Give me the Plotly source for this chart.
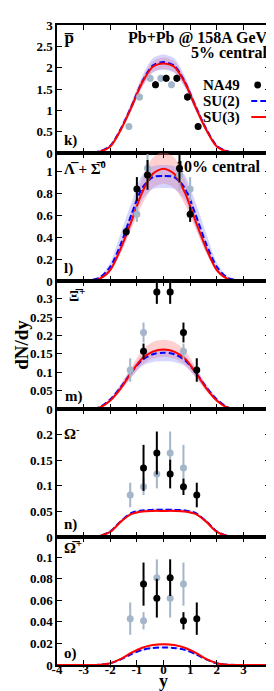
import plotly.graph_objects as go
from plotly.subplots import make_subplots

# ---------------- data ----------------
XG = [-4, -3.2, -2.8, -2.4, -2.0, -1.6, -1.2, -0.8, -0.4, 0, 0.4, 0.8, 1.2, 1.6, 2.0, 2.4, 2.8, 3.2, 4]

# panel k : anti-proton
k_su3 = [0, 0, 0, 0.03, 0.15, 0.55, 1.08, 1.65, 2.02, 2.10, 2.02, 1.65, 1.08, 0.55, 0.15, 0.03, 0, 0, 0]
k_su3_lo = [0, 0, 0, 0.02, 0.13, 0.50, 1.01, 1.55, 1.90, 1.97, 1.90, 1.55, 1.01, 0.50, 0.13, 0.02, 0, 0, 0]
k_su3_hi = [0, 0, 0, 0.04, 0.17, 0.60, 1.15, 1.75, 2.15, 2.24, 2.15, 1.75, 1.15, 0.60, 0.17, 0.04, 0, 0, 0]
k_su2 = [0, 0, 0, 0.04, 0.17, 0.57, 1.10, 1.67, 2.05, 2.13, 2.05, 1.67, 1.10, 0.57, 0.17, 0.04, 0, 0, 0]
k_su2_lo = [0, 0, 0, 0.03, 0.14, 0.51, 1.00, 1.54, 1.88, 1.95, 1.88, 1.54, 1.00, 0.51, 0.14, 0.03, 0, 0, 0]
k_su2_hi = [0, 0, 0, 0.05, 0.20, 0.63, 1.20, 1.80, 2.22, 2.31, 2.22, 1.80, 1.20, 0.63, 0.20, 0.05, 0, 0, 0]
k_na49_x = [-0.3, 0.1, 0.5, 0.9, 1.3]
k_na49_y = [1.60, 1.75, 1.75, 1.31, 0.62]
k_na49_e = [0.08, 0.08, 0.08, 0.08, 0.07]
k_refl_x = [-1.3, -0.9, -0.5, -0.1, 0.3]
k_refl_y = [0.62, 1.31, 1.75, 1.75, 1.60]
k_refl_e = [0.07, 0.08, 0.08, 0.08, 0.08]

# panel l : anti-Lambda + anti-Sigma0
l_su3 = [0, 0, 0, 0.02, 0.10, 0.30, 0.55, 0.81, 0.98, 1.025, 0.98, 0.81, 0.55, 0.30, 0.10, 0.02, 0, 0, 0]
l_su3_lo = [0, 0, 0, 0.015, 0.085, 0.26, 0.48, 0.70, 0.85, 0.89, 0.85, 0.70, 0.48, 0.26, 0.085, 0.015, 0, 0, 0]
l_su3_hi = [0, 0, 0, 0.03, 0.12, 0.35, 0.64, 0.94, 1.13, 1.18, 1.13, 0.94, 0.64, 0.35, 0.12, 0.03, 0, 0, 0]
l_su2 = [0, 0, 0.005, 0.03, 0.13, 0.34, 0.61, 0.85, 0.95, 0.96, 0.95, 0.85, 0.61, 0.34, 0.13, 0.03, 0.005, 0, 0]
l_su2_lo = [0, 0, 0, 0.02, 0.10, 0.26, 0.50, 0.74, 0.84, 0.85, 0.84, 0.74, 0.50, 0.26, 0.10, 0.02, 0, 0, 0]
l_su2_hi = [0, 0, 0.01, 0.045, 0.17, 0.44, 0.72, 0.97, 1.05, 1.06, 1.05, 0.97, 0.72, 0.44, 0.17, 0.045, 0.01, 0, 0]
l_na49_x = [-1.4, -1.0, -0.6, 0.6, 1.0]
l_na49_y = [0.45, 0.84, 0.97, 1.03, 0.61]
l_na49_e = [0.036, 0.11, 0.136, 0.13, 0.07]
l_refl_x = [1.0, 0.6, -0.6, -1.0]
l_refl_y = [0.84, 0.97, 1.03, 0.61]
l_refl_e = [0.11, 0.136, 0.13, 0.07]

# panel m : anti-Xi+
m_su3 = [0, 0, 0, 0.004, 0.023, 0.057, 0.100, 0.137, 0.156, 0.162, 0.156, 0.137, 0.100, 0.057, 0.023, 0.004, 0, 0, 0]
m_su3_lo = [0, 0, 0, 0.003, 0.019, 0.049, 0.087, 0.120, 0.137, 0.142, 0.137, 0.120, 0.087, 0.049, 0.019, 0.003, 0, 0, 0]
m_su3_hi = [0, 0, 0, 0.005, 0.027, 0.066, 0.115, 0.160, 0.182, 0.188, 0.182, 0.160, 0.115, 0.066, 0.027, 0.005, 0, 0, 0]
m_su2 = [0, 0, 0, 0.005, 0.026, 0.060, 0.100, 0.133, 0.149, 0.153, 0.149, 0.133, 0.100, 0.060, 0.026, 0.005, 0, 0, 0]
m_su2_lo = [0, 0, 0, 0.004, 0.021, 0.051, 0.087, 0.117, 0.128, 0.130, 0.128, 0.117, 0.087, 0.051, 0.021, 0.004, 0, 0, 0]
m_su2_hi = [0, 0, 0, 0.006, 0.030, 0.068, 0.110, 0.145, 0.160, 0.163, 0.160, 0.145, 0.110, 0.068, 0.030, 0.006, 0, 0, 0]
m_na49_x = [-0.75, -0.25, 0.25, 0.75, 1.25]
m_na49_y = [0.157, 0.318, 0.318, 0.208, 0.106]
m_na49_e = [0.021, 0.032, 0.032, 0.027, 0.032]
m_refl_x = [-1.25, -0.75, -0.25, 0.25, 0.75]
m_refl_y = [0.106, 0.208, 0.318, 0.318, 0.157]
m_refl_e = [0.032, 0.027, 0.032, 0.032, 0.021]

# panel n : Omega-
n_su3 = [0, 0, 0, 0.002, 0.010, 0.030, 0.045, 0.050, 0.051, 0.051, 0.051, 0.050, 0.045, 0.030, 0.010, 0.002, 0, 0, 0]
n_su3_lo = [0, 0, 0, 0.0015, 0.009, 0.028, 0.043, 0.048, 0.049, 0.049, 0.049, 0.048, 0.043, 0.028, 0.009, 0.0015, 0, 0, 0]
n_su3_hi = [0, 0, 0, 0.0025, 0.011, 0.032, 0.047, 0.052, 0.053, 0.053, 0.053, 0.052, 0.047, 0.032, 0.011, 0.0025, 0, 0, 0]
n_su2 = [0, 0, 0, 0.002, 0.011, 0.031, 0.047, 0.052, 0.053, 0.053, 0.053, 0.052, 0.047, 0.031, 0.011, 0.002, 0, 0, 0]
n_su2_lo = [0, 0, 0, 0.0015, 0.010, 0.029, 0.045, 0.050, 0.051, 0.051, 0.051, 0.050, 0.045, 0.029, 0.010, 0.0015, 0, 0, 0]
n_su2_hi = [0, 0, 0, 0.0025, 0.012, 0.033, 0.049, 0.054, 0.055, 0.055, 0.055, 0.054, 0.049, 0.033, 0.012, 0.0025, 0, 0, 0]
n_na49_x = [-0.75, -0.25, 0.25, 0.75, 1.25]
n_na49_y = [0.135, 0.164, 0.123, 0.098, 0.082]
n_na49_e = [0.045, 0.042, 0.028, 0.016, 0.024]
n_refl_x = [-1.25, -0.75, -0.25, 0.25, 0.75]
n_refl_y = [0.082, 0.098, 0.123, 0.164, 0.135]
n_refl_e = [0.024, 0.016, 0.028, 0.042, 0.045]

# panel o : anti-Omega+
o_su3 = [0, 0, 0, 0.0003, 0.0017, 0.0057, 0.0115, 0.0160, 0.0185, 0.0193, 0.0185, 0.0160, 0.0115, 0.0057, 0.0017, 0.0003, 0, 0, 0]
o_su3_lo = [0, 0, 0, 0.0002, 0.0015, 0.0053, 0.0108, 0.0152, 0.0176, 0.0184, 0.0176, 0.0152, 0.0108, 0.0053, 0.0015, 0.0002, 0, 0, 0]
o_su3_hi = [0, 0, 0, 0.0004, 0.0019, 0.0061, 0.0122, 0.0168, 0.0194, 0.0202, 0.0194, 0.0168, 0.0122, 0.0061, 0.0019, 0.0004, 0, 0, 0]
o_su2 = [0, 0, 0, 0.0003, 0.0016, 0.0052, 0.0102, 0.0140, 0.0158, 0.0163, 0.0158, 0.0140, 0.0102, 0.0052, 0.0016, 0.0003, 0, 0, 0]
o_su2_lo = [0, 0, 0, 0.0002, 0.0014, 0.0048, 0.0096, 0.0132, 0.0150, 0.0155, 0.0150, 0.0132, 0.0096, 0.0048, 0.0014, 0.0002, 0, 0, 0]
o_su2_hi = [0, 0, 0, 0.0004, 0.0018, 0.0056, 0.0108, 0.0148, 0.0166, 0.0171, 0.0166, 0.0148, 0.0108, 0.0056, 0.0018, 0.0004, 0, 0, 0]
o_na49_x = [-0.75, -0.25, 0.25, 0.75, 1.25]
o_na49_y = [0.075, 0.062, 0.081, 0.041, 0.043]
o_na49_e = [0.020, 0.018, 0.017, 0.008, 0.015]
o_refl_x = [-1.25, -0.75, -0.25, 0.25, 0.75]
o_refl_y = [0.043, 0.041, 0.081, 0.062, 0.075]
o_refl_e = [0.015, 0.008, 0.017, 0.018, 0.020]

X_TICKS = [-4, -3, -2, -1, 0, 1, 2, 3, 4]
Y_RANGES = [[0, 3.0], [0, 1.17], [0, 0.348], [0, 0.25], [0, 0.1187]]
Y_TICKS = [
    [0, 0.5, 1, 1.5, 2, 2.5, 3],
    [0, 0.2, 0.4, 0.6, 0.8, 1.0],
    [0, 0.05, 0.1, 0.15, 0.2, 0.25, 0.3],
    [0, 0.05, 0.1, 0.15, 0.2],
    [0, 0.02, 0.04, 0.06, 0.08, 0.1],
]
Y_TICKTEXT = [
    ["0", "0.5", "1", "1.5", "2", "2.5", "3"],
    ["0", "0.2", "0.4", "0.6", "0.8", "1"],
    ["0", "0.05", "0.1", "0.15", "0.2", "0.25", "0.3"],
    ["0", "0.05", "0.1", "0.15", "0.2"],
    ["0", "0.02", "0.04", "0.06", "0.08", "0.1"],
]

panels = [
    dict(su3=k_su3, su3_lo=k_su3_lo, su3_hi=k_su3_hi, su2=k_su2, su2_lo=k_su2_lo, su2_hi=k_su2_hi,
         dx=k_na49_x, dy=k_na49_y, de=k_na49_e, rx=k_refl_x, ry=k_refl_y, re=k_refl_e),
    dict(su3=l_su3, su3_lo=l_su3_lo, su3_hi=l_su3_hi, su2=l_su2, su2_lo=l_su2_lo, su2_hi=l_su2_hi,
         dx=l_na49_x, dy=l_na49_y, de=l_na49_e, rx=l_refl_x, ry=l_refl_y, re=l_refl_e),
    dict(su3=m_su3, su3_lo=m_su3_lo, su3_hi=m_su3_hi, su2=m_su2, su2_lo=m_su2_lo, su2_hi=m_su2_hi,
         dx=m_na49_x, dy=m_na49_y, de=m_na49_e, rx=m_refl_x, ry=m_refl_y, re=m_refl_e),
    dict(su3=n_su3, su3_lo=n_su3_lo, su3_hi=n_su3_hi, su2=n_su2, su2_lo=n_su2_lo, su2_hi=n_su2_hi,
         dx=n_na49_x, dy=n_na49_y, de=n_na49_e, rx=n_refl_x, ry=n_refl_y, re=n_refl_e),
    dict(su3=o_su3, su3_lo=o_su3_lo, su3_hi=o_su3_hi, su2=o_su2, su2_lo=o_su2_lo, su2_hi=o_su2_hi,
         dx=o_na49_x, dy=o_na49_y, de=o_na49_e, rx=o_refl_x, ry=o_refl_y, re=o_refl_e),
]

# ---------------- style ----------------
FONT = "Liberation Serif"
RED = "#ff0000"
BLUE = "#0000ff"
PINK_FILL = "rgba(255,120,120,0.35)"
BLUE_FILL = "rgba(120,120,255,0.30)"
GRAY = "#a3b6ca"
SPL = dict(shape="spline", smoothing=0.8)

fig = make_subplots(rows=5, cols=1, shared_xaxes=True, vertical_spacing=0)

for i, p in enumerate(panels, start=1):
    fig.add_trace(go.Scatter(x=XG, y=p["su3_lo"], mode="lines", line=dict(width=0, **SPL),
                             hoverinfo="skip", showlegend=False), row=i, col=1)
    fig.add_trace(go.Scatter(x=XG, y=p["su3_hi"], mode="lines", line=dict(width=0, **SPL),
                             fill="tonexty", fillcolor=PINK_FILL, hoverinfo="skip", showlegend=False), row=i, col=1)
    fig.add_trace(go.Scatter(x=XG, y=p["su2_lo"], mode="lines", line=dict(width=0, **SPL),
                             hoverinfo="skip", showlegend=False), row=i, col=1)
    fig.add_trace(go.Scatter(x=XG, y=p["su2_hi"], mode="lines", line=dict(width=0, **SPL),
                             fill="tonexty", fillcolor=BLUE_FILL, hoverinfo="skip", showlegend=False), row=i, col=1)
    fig.add_trace(go.Scatter(x=XG, y=p["su2"], mode="lines", name="SU(2)",
                             line=dict(color=BLUE, width=2, dash="6px,3px", **SPL), showlegend=False), row=i, col=1)
    fig.add_trace(go.Scatter(x=XG, y=p["su3"], mode="lines", name="SU(3)",
                             line=dict(color=RED, width=2, **SPL), showlegend=False), row=i, col=1)
    fig.add_trace(go.Scatter(x=p["rx"], y=p["ry"], mode="markers", showlegend=False,
                             marker=dict(color=GRAY, size=7),
                             error_y=dict(type="data", array=p["re"], color=GRAY, thickness=2, width=0)),
                  row=i, col=1)
    fig.add_trace(go.Scatter(x=p["dx"], y=p["dy"], mode="markers", name="NA49", showlegend=False,
                             marker=dict(color="black", size=7),
                             error_y=dict(type="data", array=p["de"], color="black", thickness=2, width=0)),
                  row=i, col=1)

axis_common = dict(showline=True, linecolor="black", linewidth=1.5, mirror="allticks",
                   ticks="inside", ticklen=5, tickwidth=1, tickcolor="black",
                   showgrid=False, zeroline=False,
                   tickfont=dict(family=FONT, size=13, color="black", weight="bold"))

for i in range(1, 6):
    fig.update_xaxes(range=[-4, 4], tickvals=X_TICKS, ticktext=[str(v) for v in X_TICKS],
                     row=i, col=1, **axis_common)
    fig.update_yaxes(range=Y_RANGES[i - 1], tickvals=Y_TICKS[i - 1], ticktext=Y_TICKTEXT[i - 1],
                     row=i, col=1, **axis_common)

fig.update_xaxes(showticklabels=True, ticklabelstandoff=-8, row=5, col=1)

txt = dict(family=FONT, size=15, color="black", weight="bold")
anns = []

def ann(text, xd, yd, axis_idx, xanchor="left", size=15, **kw):
    xr = "x domain" if axis_idx == 1 else f"x{axis_idx} domain"
    yr = "y domain" if axis_idx == 1 else f"y{axis_idx} domain"
    f = dict(txt)
    f["size"] = size
    anns.append(dict(text=text, x=xd, y=yd, xref=xr, yref=yr, xanchor=xanchor, yanchor="middle",
                     showarrow=False, font=f, borderpad=0, **kw))

# panel k
ann("p\u0305", 0.03, 0.90, 1, size=17)
ann("Pb+Pb @ 158A GeV", 0.997, 0.895, 1, xanchor="right", size=16)
ann("5% central", 0.997, 0.785, 1, xanchor="right", size=16)
ann("NA49", 0.866, 0.531, 1, xanchor="right", size=15)
ann("SU(2)", 0.866, 0.406, 1, xanchor="right", size=15)
ann("SU(3)", 0.866, 0.281, 1, xanchor="right", size=15)
ann("k)", 0.03, 0.094, 1)
# panel l
ann("\u039b\u0305 + \u03a3\u0305<sup>0</sup>", 0.03, 0.88, 2)
ann("10% central", 0.963, 0.898, 2, xanchor="right", size=16)
ann("l)", 0.03, 0.10, 2)
# panel m
ann("\u039e\u0305<sup>+</sup>", 0.05, 0.89, 3)
ann("m)", 0.035, 0.10, 3)
# panel n
ann("\u03a9<sup>-</sup>", 0.03, 0.81, 4)
ann("n)", 0.03, 0.094, 4)
# panel o
ann("\u03a9\u0305<sup>+</sup>", 0.03, 0.92, 5)
ann("o)", 0.03, 0.086, 5)

# axis titles
anns.append(dict(text="dN/dy", x=-0.17, y=0.50, xref="paper", yref="paper", xanchor="center",
                 yanchor="middle", textangle=-90, showarrow=False, borderpad=0,
                 font=dict(family=FONT, size=19, color="black", weight="bold")))
anns.append(dict(text="y", x=0.5, y=-0.042, xref="paper", yref="paper", xanchor="center",
                 yanchor="bottom", showarrow=False, borderpad=0,
                 font=dict(family=FONT, size=18, color="black", weight="bold")))

# manual legend symbols (panel k)
shapes = [
    dict(type="circle", xref="x domain", yref="y domain", x0=0.926, x1=0.958, y0=0.531 - 0.027, y1=0.531 + 0.027,
         fillcolor="black", line=dict(color="black", width=0)),
    dict(type="line", xref="x domain", yref="y domain", x0=0.912, x1=0.988, y0=0.406, y1=0.406,
         line=dict(color=BLUE, width=2, dash="6px,3px")),
    dict(type="line", xref="x domain", yref="y domain", x0=0.912, x1=0.988, y0=0.281, y1=0.281,
         line=dict(color=RED, width=2)),
]

fig.update_layout(
    width=274, height=691,
    margin=dict(l=49, r=8, t=17, b=34),
    paper_bgcolor="white", plot_bgcolor="white",
    showlegend=False,
    annotations=anns, shapes=shapes,
    font=dict(family=FONT, color="black"),
)

fig.write_html("out.html")
